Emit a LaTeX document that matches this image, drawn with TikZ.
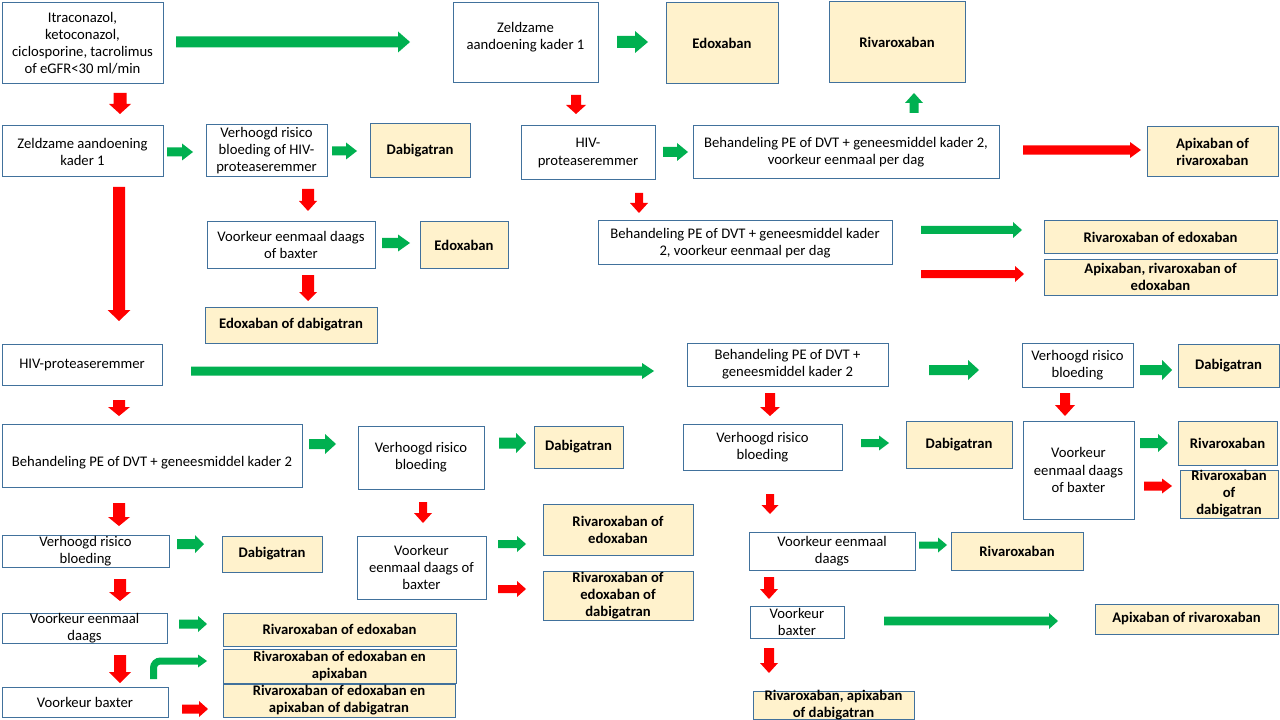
\documentclass[tikz,border=0pt]{standalone}
\usepackage{fontspec}
\setmainfont{Carlito}
\definecolor{tanfill}{HTML}{FFF2CC}
\definecolor{bordc}{HTML}{41719C}
\definecolor{agreen}{HTML}{00B050}
\definecolor{ared}{HTML}{FF0000}
\tikzset{
  wbox/.style={draw=bordc, line width=0.75pt, fill=white, inner sep=0pt, outer sep=0pt},
  tbox/.style={draw=bordc, line width=0.75pt, fill=tanfill, inner sep=0pt, outer sep=0pt},
  wtxt/.style={align=center, inner sep=0pt, font=\fontsize{11pt}{12.8pt}\selectfont, text=black},
  ttxt/.style={align=center, inner sep=0pt, font=\fontsize{11pt}{12.8pt}\selectfont\bfseries, text=black},
}
% box: [text shift]{w|t}{name}{x1}{y1}{x2}{y2}{text}
\newcommand\bx[8][0]{%
  \node[#2box, minimum width={(#6-#4)*0.75pt}, minimum height={(#7-#5)*0.75pt}] (#3) at ({(#4+#6)/2},{(#5+#7)/2}) {};
  \node[#2txt] (#3t) at ({(#4+#6)/2},{(#5+#7)/2+#1}) {#8};}
% right arrow: colour, x1, x2, y, shaft half, head half, head length
\newcommand\myRA[7]{\fill[#1] (#2,{#4-#5}) -- ({#3-#7},{#4-#5}) -- ({#3-#7},{#4-#6}) -- (#3,#4) -- ({#3-#7},{#4+#6}) -- ({#3-#7},{#4+#5}) -- (#2,{#4+#5}) -- cycle;}
% down arrow: colour, x, y1, y2, shaft half, head half, head length
\newcommand\myDA[7]{\fill[#1] ({#2-#5},#3) -- ({#2-#5},{#4-#7}) -- ({#2-#6},{#4-#7}) -- (#2,#4) -- ({#2+#6},{#4-#7}) -- ({#2+#5},{#4-#7}) -- ({#2+#5},#3) -- cycle;}
% up arrow: colour, x, y1 (bottom), y2 (tip), shaft half, head half, head length
\newcommand\myUA[7]{\fill[#1] ({#2-#5},#3) -- ({#2-#5},{#4+#7}) -- ({#2-#6},{#4+#7}) -- (#2,#4) -- ({#2+#6},{#4+#7}) -- ({#2+#5},{#4+#7}) -- ({#2+#5},#3) -- cycle;}
\begin{document}
\begin{tikzpicture}[x=0.75pt, y=-0.75pt]
\useasboundingbox (0,0) rectangle (1280,720);
\fill[white] (0,0) rectangle (1280,720);

% ---------- boxes ----------
\bx{w}{A}{2}{3}{163}{84}{Itraconazol,\\ketoconazol,\\ciclosporine, tacrolimus\\of eGFR<30 ml/min}
\bx[-6]{w}{B}{453}{3}{598}{83}{Zeldzame\\aandoening kader 1}
\bx{t}{EdoA}{666}{3}{778}{84}{Edoxaban}
\bx{t}{RivA}{829}{2}{965}{83}{Rivaroxaban}
\bx{w}{C}{2}{126}{163}{177}{Zeldzame aandoening\\kader 1}
\bx{w}{D}{206}{125}{327}{177}{Verhoogd risico\\bloeding of HIV-\\proteaseremmer}
\bx{t}{DabA}{370}{124}{470}{178}{Dabigatran}
\bx{w}{E}{521}{126}{655}{180}{HIV-\\proteaseremmer}
\bx{w}{F}{693}{126}{999}{179}{Behandeling PE of DVT + geneesmiddel kader 2,\\voorkeur eenmaal per dag}
\bx{t}{ApiA}{1147}{127}{1278}{177}{Apixaban of\\rivaroxaban}
\bx{w}{G}{207}{222}{375}{268}{Voorkeur eenmaal daags\\of baxter}
\bx{t}{EdoB}{420}{222}{508}{268}{Edoxaban}
\bx{t}{EdoDab}{205}{307}{377}{343}{Edoxaban of dabigatran}
\bx[1]{w}{J}{598}{221}{892}{264}{Behandeling PE of DVT + geneesmiddel kader\\2, voorkeur eenmaal per dag}
\bx{t}{K}{1044}{221}{1277}{253}{Rivaroxaban of edoxaban}
\bx{t}{L}{1044}{259}{1277}{295}{Apixaban, rivaroxaban of\\edoxaban}
\bx{w}{M}{2}{344}{162}{385}{HIV-proteaseremmer}
\bx{w}{N}{687}{343}{888}{386}{Behandeling PE of DVT +\\geneesmiddel kader 2}
\bx{w}{Q}{1022}{343}{1133}{387}{Verhoogd risico\\bloeding}
\bx{t}{R}{1178}{344}{1279}{387}{Dabigatran}
\bx[7]{w}{AF}{2}{424}{302}{487}{Behandeling PE of DVT + geneesmiddel kader 2}
\bx{w}{AA}{358}{426}{484}{489}{Verhoogd risico\\bloeding}
\bx{t}{AB}{534}{426}{623}{468}{Dabigatran}
\bx{w}{O}{683}{424}{842}{470}{Verhoogd risico\\bloeding}
\bx{t}{P}{906}{421}{1012}{468}{Dabigatran}
\bx{w}{S}{1023}{421}{1134}{519}{Voorkeur\\eenmaal daags\\of baxter}
\bx{t}{T}{1178}{421}{1277}{465}{Rivaroxaban}
\bx{t}{U}{1180}{470}{1278}{518}{Rivaroxaban\\of\\dabigatran}
\bx{t}{AD}{543}{504}{693}{555}{Rivaroxaban of\\edoxaban}
\bx{t}{AE}{543}{571}{693}{620}{Rivaroxaban of\\edoxaban of\\dabigatran}
\bx{w}{AC}{357}{536}{486}{599}{Voorkeur\\eenmaal daags of\\baxter}
\bx{w}{AG}{2}{535}{169}{567}{Verhoogd risico\\bloeding}
\bx{t}{AH}{222}{536}{322}{572}{Dabigatran}
\bx{w}{V}{749}{532}{915}{570}{Voorkeur eenmaal\\daags}
\bx{t}{W}{951}{532}{1083}{570}{Rivaroxaban}
\bx{w}{AI}{2}{613}{167}{643}{Voorkeur eenmaal\\daags}
\bx{t}{AJ}{223}{613}{456}{646}{Rivaroxaban of edoxaban}
\bx{w}{X}{750}{606}{844}{638}{Voorkeur\\baxter}
\bx{t}{Y}{1095}{604}{1278}{634}{Apixaban of rivaroxaban}
\bx{t}{AL}{223}{649}{456}{683}{Rivaroxaban of edoxaban en\\apixaban}
\bx{w}{AK}{2}{687}{168}{717}{Voorkeur baxter}
\bx{t}{AM}{223}{684}{455}{717}{Rivaroxaban of edoxaban en\\apixaban of dabigatran}
\bx[0.5]{t}{Z}{753}{691}{914}{719}{Rivaroxaban, apixaban\\of dabigatran}

% ---------- horizontal arrows ----------
\myRA{agreen}{176}{410}{42}{5.5}{10.5}{12}
\myRA{agreen}{617}{648}{42}{6}{11}{13}
\myRA{agreen}{167}{193}{152}{4.5}{8.5}{11}
\myRA{agreen}{332}{357}{151}{4.5}{8.5}{11}
\myRA{agreen}{663}{688}{152}{5}{9}{11}
\myRA{ared}{1023}{1141}{150}{4.7}{8}{11}
\myRA{agreen}{382}{410}{243}{5}{8.5}{12}
\myRA{agreen}{921}{1022}{230}{4}{8}{9}
\myRA{ared}{921}{1024}{274}{4}{8}{9}
\myRA{agreen}{191}{654}{371}{4.5}{8}{12}
\myRA{agreen}{929}{979}{370}{5}{10}{11}
\myRA{agreen}{1140}{1172}{370}{5}{10}{10}
\myRA{agreen}{861}{889}{443}{4}{7.5}{10}
\myRA{agreen}{1140}{1168}{443}{5}{9}{10}
\myRA{ared}{1144}{1172}{486}{4.5}{7.5}{10}
\myRA{agreen}{309}{336}{444}{5}{10}{11}
\myRA{agreen}{499}{526}{443}{5.5}{10}{10}
\myRA{agreen}{498}{526}{544}{4}{8}{9}
\myRA{ared}{498}{526}{589}{4}{8}{9}
\myRA{agreen}{177}{204}{544}{5}{9}{9}
\myRA{agreen}{179}{207}{624}{4.5}{8}{9}
\myRA{ared}{182}{208}{709}{4.5}{8}{9}
\myRA{agreen}{919}{947}{545}{3.5}{7.5}{9}
\myRA{agreen}{884}{1058}{621}{4.3}{8}{9}

% ---------- vertical arrows ----------
\myDA{ared}{120}{93}{114}{6.5}{11}{10}
\myDA{ared}{119}{187}{321}{6}{11.5}{11}
\myDA{ared}{308}{189}{211}{6}{9}{10}
\myDA{ared}{308}{275}{301}{6}{9}{9}
\myDA{ared}{576}{95}{114}{5}{10}{9}
\myDA{ared}{639}{193}{213}{4}{9}{10}
\myDA{ared}{119}{400}{416}{6}{11}{9}
\myDA{ared}{119}{503}{526}{6}{11}{9}
\myDA{ared}{120}{579}{601}{6}{11}{9}
\myDA{ared}{120}{655}{683}{6}{11}{11}
\myDA{ared}{423}{502}{523}{4}{9}{10}
\myDA{ared}{770}{393}{416}{5}{10}{9}
\myDA{ared}{770}{494}{514}{4}{8.5}{9}
\myDA{ared}{1065}{393}{416}{5}{10}{11}
\myDA{ared}{769}{577}{599}{5}{9}{10}
\myDA{ared}{769}{648}{673}{5}{9}{10}
\myUA{agreen}{914}{113}{93}{4.5}{9}{10}

% ---------- bent green arrow ----------
\draw[agreen, line width=7*0.75pt, rounded corners=7*0.75pt] (153.5,679) -- (153.5,661) -- (199,661);
\fill[agreen] (198,654.5) -- (207,661) -- (198,667.5) -- cycle;
\end{tikzpicture}
\end{document}
